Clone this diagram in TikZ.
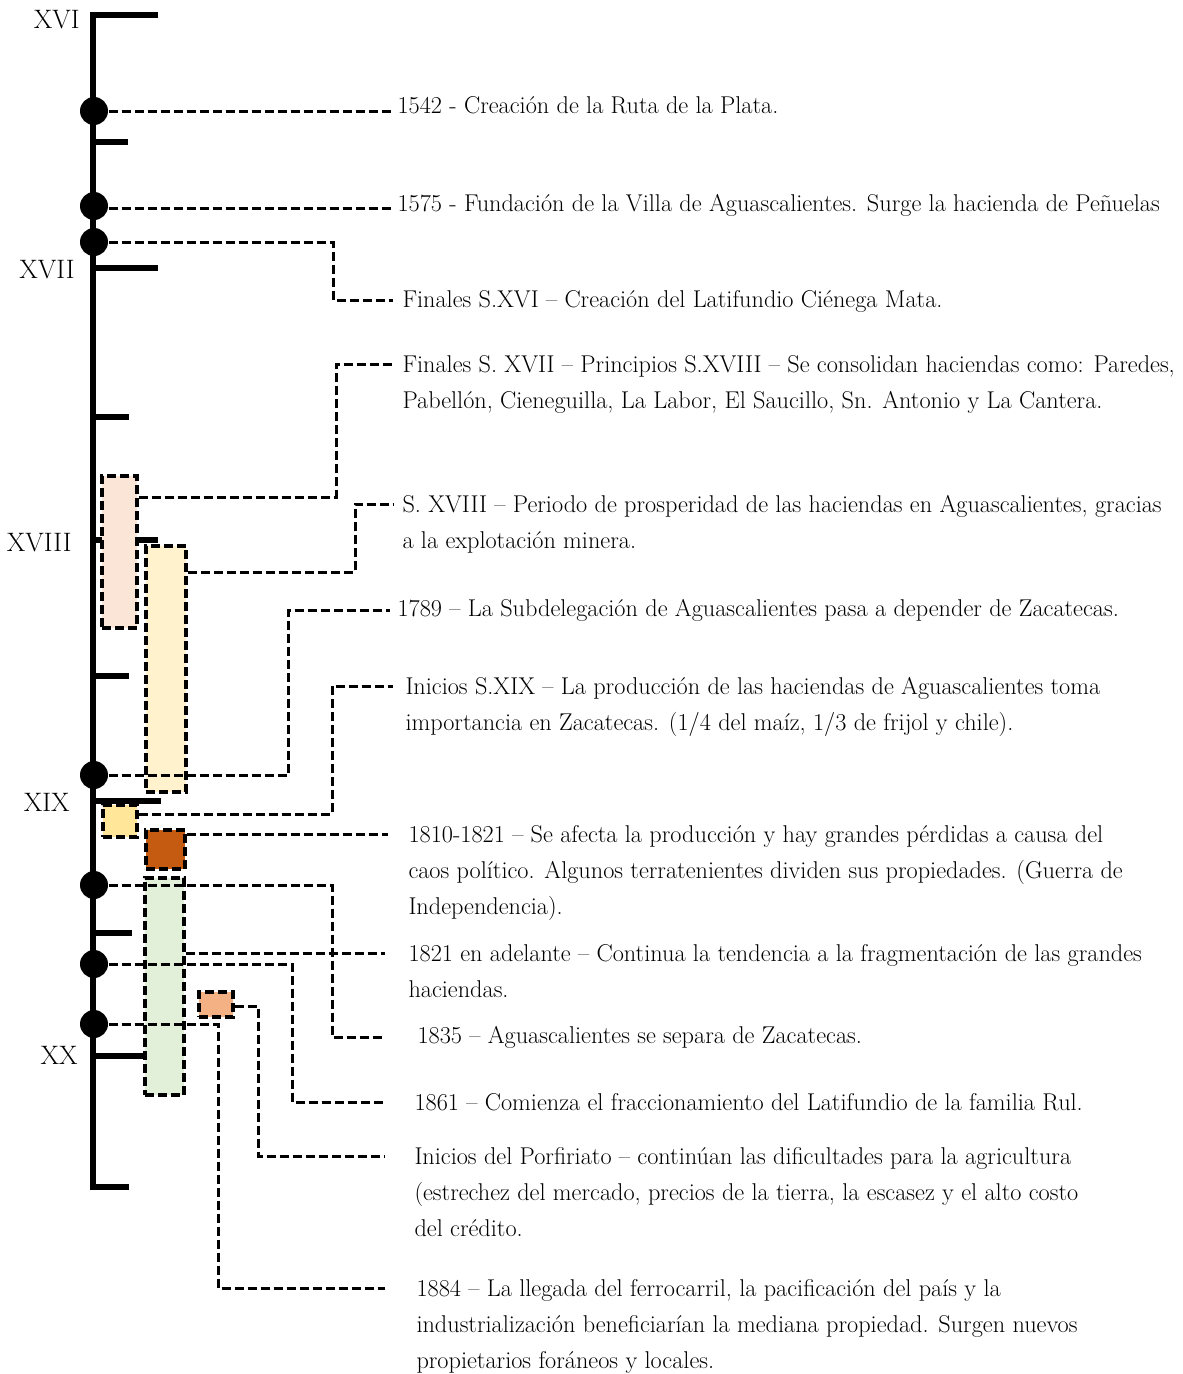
\documentclass[tikz,border=0pt]{standalone}
\usepackage{fontspec}
\usetikzlibrary{positioning}

\definecolor{peach}{HTML}{FBE5D6}
\definecolor{cream}{HTML}{FFF2CC}
\definecolor{gold}{HTML}{FFE699}
\definecolor{rust}{HTML}{C55A11}
\definecolor{sage}{HTML}{E2F0D9}
\definecolor{salmon}{HTML}{F4B183}

\tikzset{every picture/.style={line width=0.75pt}}
\tikzset{
  axisline/.style={line width=4.5pt},
  conn/.style={line width=2.25pt, dash pattern=on 6.75pt off 3pt},
  evdot/.style={circle, fill=black, inner sep=0pt, minimum size=21pt},
  period/.style={draw, line width=2.4pt, dash pattern=on 6.75pt off 3pt, inner sep=0pt},
  evt/.style={align=left, inner sep=0pt, font=\fontsize{18.2}{27}\selectfont},
  century/.style={anchor=east, inner sep=0pt, font=\fontsize{20}{24}\selectfont}
}

\begin{document}
\begin{tikzpicture}[x=0.75pt,y=0.75pt,yscale=-1,xscale=1]
\useasboundingbox (0,0) rectangle (1182,1374);

%Straight Lines (time axis)
\draw [axisline]  (158,15) -- (93,15) -- (93,1187) -- (129,1187) ;
\draw [axisline]  (93,142) -- (128,142) ;
\draw [axisline]  (93,268) -- (158,268) ;
\draw [axisline]  (93,417) -- (129,417) ;
\draw [axisline]  (93,540) -- (158,540) ;
\draw [axisline]  (93,676) -- (129,676) ;
\draw [axisline]  (93,801) -- (161,801) ;
\draw [axisline]  (93,933) -- (132,933) ;
\draw [axisline]  (93,1056) -- (145,1056) ;

%Centuries
\node [century] (sXVI) at (80,20) {XVI} ;
\node [century] (sXVII) at (75,270) {XVII} ;
\node [century] (sXVIII) at (72,543) {XVIII} ;
\node [century] (sXIX) at (70,802) {XIX} ;
\node [century] (sXX) at (78,1055) {XX} ;

%Shape: Rectangle (periods)
\node [period, fill=peach, minimum width=26.25pt, minimum height=114pt] (bxA) at (119.5,552) {} ;
\node [period, fill=cream, minimum width=30pt, minimum height=184.5pt] (bxB) at (166,669) {} ;
\node [period, fill=gold, minimum width=25.5pt, minimum height=24pt] (bxC) at (120,821) {} ;
\node [period, fill=rust, minimum width=29.25pt, minimum height=29.25pt] (bxD) at (165.5,849.5) {} ;
\node [period, fill=sage, minimum width=29.25pt, minimum height=162.75pt] (bxE) at (164.5,986.5) {} ;
\node [period, fill=salmon, minimum width=25.5pt, minimum height=18.75pt] (bxF) at (216,1004.5) {} ;

%Events
\node [evdot] (d1) at (94,111) {} ;
\node [evdot] (d2) at (94,206) {} ;
\node [evdot] (d3) at (94,242) {} ;
\node [evdot] (d4) at (94,775) {} ;
\node [evdot] (d5) at (94,885) {} ;
\node [evdot] (d6) at (94,964) {} ;
\node [evdot] (d7) at (94,1024) {} ;

\coordinate (e1) at (393,111) ;
\coordinate (e2) at (393,208) ;
\coordinate (e3) at (393,300) ;
\coordinate (e4) at (393,364) ;
\coordinate (e5) at (393,504) ;
\coordinate (e6) at (390,610) ;
\coordinate (e7) at (393,686) ;
\coordinate (e8) at (388,834) ;
\coordinate (e9) at (385,953) ;
\coordinate (e10) at (385,1037) ;
\coordinate (e11) at (385,1102) ;
\coordinate (e12) at (385,1156) ;
\coordinate (e13) at (385,1288) ;

%Dashed connectors
\draw [conn]  (d1) -- (e1) ;
\draw [conn]  (d2.east |- e2) -- (e2) ;
\draw [conn]  (d3.east) -| (333,300) -- (e3) ;
\draw [conn]  (bxA.east |- 0,497) -| (336,364) -- (e4) ;
\draw [conn]  (bxB.east |- 0,572) -| (355,504) -- (e5) ;
\draw [conn]  (d4.east) -| (288,610) -- (e6) ;
\draw [conn]  (bxC.east |- 0,814) -| (332,686) -- (e7) ;
\draw [conn]  (bxD.east |- e8) -- (e8) ;
\draw [conn]  (bxE.east |- e9) -- (e9) ;
\draw [conn]  (d5.east) -| (332,1037) -- (e10) ;
\draw [conn]  (d6.east) -| (292,1102) -- (e11) ;
\draw [conn]  (bxF.east |- 0,1006) -| (258,1156) -- (e12) ;
\draw [conn]  (d7.east) -| (218,1288) -- (e13) ;

%Texts
\node [evt, right=3pt of e1, yshift=4pt] (t1) {1542 - Creación de la Ruta de la Plata.} ;
\node [evt, right=3pt of e2, yshift=2pt] (t2) {1575 - Fundación de la Villa de Aguascalientes. Surge la hacienda de Peñuelas} ;
\node [evt, right=6.75pt of e3, yshift=-1pt] (t3) {Finales S.XVI – Creación del Latifundio Ciénega Mata.} ;
\node [evt, below right=-6.5pt and 6.75pt of e4] (t4) {Finales S. XVII – Principios S.XVIII – Se consolidan haciendas como: Paredes,\\Pabellón, Cieneguilla, La Labor, El Saucillo, Sn. Antonio y La Cantera.} ;
\node [evt, below right=-6.5pt and 6.75pt of e5] (t5) {S. XVIII – Periodo de prosperidad de las haciendas en Aguascalientes, gracias\\a la explotación minera.} ;
\node [evt, right=5.25pt of e6] (t6) {1789 – La Subdelegación de Aguascalientes pasa a depender de Zacatecas.} ;
\node [evt, below right=-6.5pt and 9pt of e7] (t7) {Inicios S.XIX – La producción de las haciendas de Aguascalientes toma\\importancia en Zacatecas. (1/4 del maíz, 1/3 de frijol y chile).} ;
\node [evt, below right=-6.5pt and 15pt of e8] (t8) {1810-1821 – Se afecta la producción y hay grandes pérdidas a causa del\\caos político. Algunos terratenientes dividen sus propiedades. (Guerra de\\Independencia).} ;
\node [evt, below right=-6.5pt and 17.25pt of e9] (t9) {1821 en adelante – Continua la tendencia a la fragmentación de las grandes\\haciendas.} ;
\node [evt, right=24pt of e10] (t10) {1835 – Aguascalientes se separa de Zacatecas.} ;
\node [evt, right=21.75pt of e11] (t11) {1861 – Comienza el fraccionamiento del Latifundio de la familia Rul.} ;
\node [evt, below right=-6.5pt and 21.75pt of e12] (t12) {Inicios del Porfiriato – continúan las dificultades para la agricultura\\(estrechez del mercado, precios de la tierra, la escasez y el alto costo\\del crédito.} ;
\node [evt, below right=-6.5pt and 23.25pt of e13] (t13) {1884 – La llegada del ferrocarril, la pacificación del país y la\\industrialización beneficiarían la mediana propiedad. Surgen nuevos\\propietarios foráneos y locales.} ;

\end{tikzpicture}
\end{document}
